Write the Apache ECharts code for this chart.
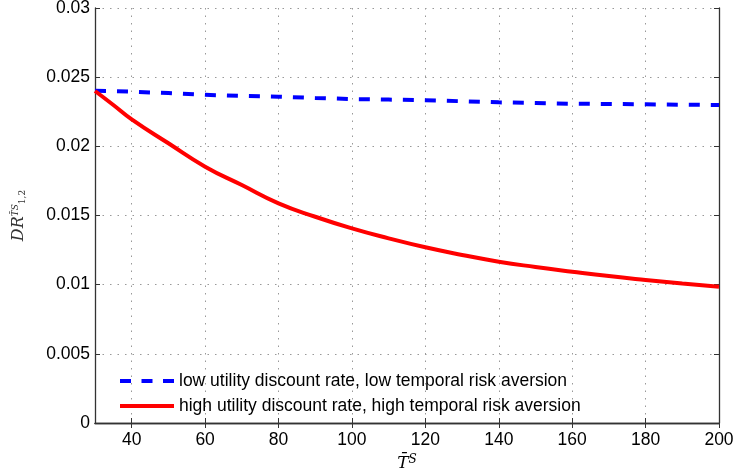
<!DOCTYPE html>
<html>
<head>
<meta charset="utf-8">
<script src="https://cdn.jsdelivr.net/npm/echarts@6/dist/echarts.min.js"></script>
<style>html,body{margin:0;padding:0;background:#fff;}#c{width:738px;height:470px;}</style>
</head>
<body>
<div id="c"></div>
<script>
var tValues = [30, 35, 40, 50, 60, 70, 80, 90, 100, 110, 120, 130, 140, 150, 160, 170, 180, 190, 200];
var lowRate = [0.02402, 0.02399, 0.02395, 0.02385, 0.02372, 0.02365, 0.02359, 0.0235, 0.02342, 0.02338, 0.02333, 0.02326, 0.02318, 0.02313, 0.02308, 0.02306, 0.02304, 0.02301, 0.02299];
var highRate = [0.0240, 0.02299, 0.02195, 0.02022, 0.01853, 0.0172, 0.01588, 0.01491, 0.01407, 0.01335, 0.0127, 0.01215, 0.01166, 0.01128, 0.01094, 0.01062, 0.01034, 0.01008, 0.00985];
var xTicks = [40, 60, 80, 100, 120, 140, 160, 180, 200];
var seriesNames = ['low utility discount rate, low temporal risk aversion', 'high utility discount rate, high temporal risk aversion'];

function pairs(xs, ys) { return xs.map(function (x, i) { return [x, ys[i]]; }); }

var frame = { lineStyle: { color: '#333', width: 1.3 } };
var grid = { type: [1.5, 6], color: '#999', width: 1 };
var labelFont = { fontFamily: 'Liberation Sans, Arial', fontSize: 17.5, color: '#000' };
var chart = echarts.init(document.getElementById('c'));
chart.setOption({
  animation: false,
  backgroundColor: '#fff',
  grid: { left: 95, right: 19, top: 8, bottom: 47, containLabel: false, outerBoundsMode: 'none' },
  legend: {
    orient: 'vertical', left: 115, top: 367,
    itemWidth: 54, itemHeight: 4, itemGap: 7,
    textStyle: { fontFamily: 'Liberation Sans, Arial', fontSize: 17.5, color: '#000' },
    data: [
      { name: seriesNames[0], icon: 'path://M0,0h11v4h-11zM21.5,0h11v4h-11zM43,0h11v4h-11z' },
      { name: seriesNames[1], icon: 'path://M0,0h54v4h-54z' }
    ]
  },
  xAxis: [{
    type: 'value', min: 30, max: 200,
    name: '{t|T̄}{s|S}', nameLocation: 'middle', nameGap: 27,
    nameTextStyle: { rich: {
      t: { fontFamily: 'DejaVu Serif', fontStyle: 'italic', fontSize: 17, color: '#000' },
      s: { fontFamily: 'DejaVu Serif', fontStyle: 'italic', fontSize: 12, color: '#000', verticalAlign: 'top', padding: [0, 0, 8, 0] }
    } },
    axisLine: frame,
    axisTick: { inside: true, length: 5, customValues: xTicks, lineStyle: { color: '#333' } },
    axisLabel: Object.assign({ customValues: xTicks, margin: 8 }, labelFont),
    splitLine: { show: true, lineStyle: grid }
  }, {
    type: 'value', min: 30, max: 200, position: 'top',
    axisLine: frame,
    axisTick: { inside: true, length: 5, customValues: xTicks, lineStyle: { color: '#333' } },
    axisLabel: { show: false }, splitLine: { show: false }
  }],
  yAxis: [{
    type: 'value', min: 0, max: 0.03, interval: 0.005,
    name: '{a|DR}{b|T̄S}{c|1,2}', nameLocation: 'middle', nameGap: 68, nameRotate: 90,
    nameTextStyle: { rich: {
      a: { fontFamily: 'DejaVu Serif', fontStyle: 'italic', fontSize: 16, color: '#333' },
      b: { fontFamily: 'DejaVu Serif', fontStyle: 'italic', fontSize: 9, color: '#333', verticalAlign: 'top' },
      c: { fontFamily: 'DejaVu Serif', fontSize: 9, color: '#333', verticalAlign: 'bottom' }
    } },
    axisLine: { show: true, lineStyle: { color: '#333', width: 1.3 } },
    axisTick: { show: true, inside: true, length: 5, lineStyle: { color: '#333' } },
    axisLabel: Object.assign({ margin: 5 }, labelFont),
    splitLine: { show: true, lineStyle: grid }
  }, {
    type: 'value', min: 0, max: 0.03, interval: 0.005, position: 'right',
    axisLine: { show: true, lineStyle: { color: '#333', width: 1.3 } },
    axisTick: { show: true, inside: true, length: 5, lineStyle: { color: '#333' } },
    axisLabel: { show: false }, splitLine: { show: false }
  }],
  series: [{
    name: seriesNames[0], type: 'line', symbol: 'none', smooth: false,
    data: pairs(tValues, lowRate),
    lineStyle: { color: '#0000ff', width: 4, type: [11, 11] },
    itemStyle: { color: '#0000ff' }
  }, {
    name: seriesNames[1], type: 'line', symbol: 'none', smooth: true,
    data: pairs(tValues, highRate),
    lineStyle: { color: '#ff0000', width: 4 },
    itemStyle: { color: '#ff0000' }
  }]
});
</script>
</body>
</html>
